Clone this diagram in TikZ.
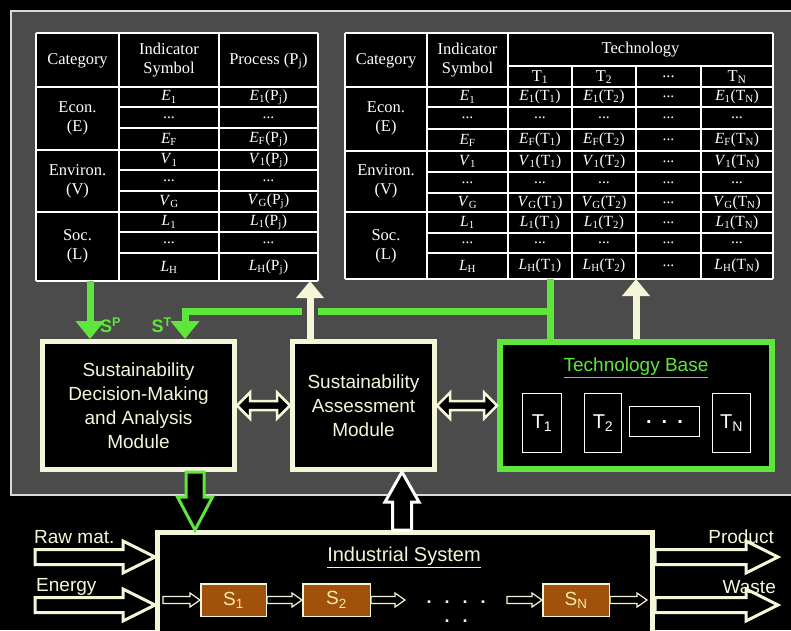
\documentclass[tikz,border=0pt]{standalone}
\usepackage{fontspec}
\setmainfont{Liberation Serif}
\setsansfont{Liberation Sans}
\usetikzlibrary{arrows.meta,calc}
\definecolor{panel}{RGB}{75,75,75}
\definecolor{cream}{RGB}{245,245,215}
\definecolor{brgreen}{RGB}{95,230,60}
\definecolor{brownbox}{RGB}{160,82,12}
\definecolor{slabel}{RGB}{250,235,170}
\newcommand\ix[2]{\textit{#1}\textsubscript{#2}}
\tikzset{
  tline/.style={white, line width=1.3pt},
  cell/.style={text=white, font=\fontsize{15.5}{17}\selectfont, inner sep=0pt},
  headtxt/.style={text=white, font=\fontsize{16.5}{19}\selectfont, align=center, inner sep=0pt},
  modbox/.style={draw=cream, fill=black, line width=5pt, text=cream,
    font=\sffamily\fontsize{19}{24}\selectfont, align=center, inner sep=0pt},
  techbox/.style={draw=white, line width=1pt, fill=black, text=white,
    font=\sffamily\fontsize{20}{24}\selectfont, inner sep=0pt},
  sbox/.style={draw=cream, line width=1.5pt, fill=brownbox, text=slabel,
    font=\sffamily\fontsize{19}{22}\selectfont, inner sep=0pt, minimum height=32.5pt},
  iolabel/.style={text=cream, font=\sffamily\fontsize{19}{22}\selectfont, inner sep=0pt},
  glabel/.style={text=brgreen, font=\sffamily\bfseries\fontsize{18}{20}\selectfont, inner sep=0pt},
  gline/.style={brgreen, line width=7pt, line join=miter},
  gtip/.style={-{Triangle[length=18pt,width=28pt]}},
  warrow/.style={cream, line width=7pt, -{Triangle[length=17pt,width=27pt]}},
  fat/.style n args={3}{to path={
    let \p1=(\tikztostart), \p2=(\tikztotarget), \n1={atan2(\y2-\y1,\x2-\x1)} in
    ($(\p1)+(\n1+90:#1)$) -- ($(\p2)+(\n1+180:#3)+(\n1+90:#1)$)
    -- ($(\p2)+(\n1+180:#3)+(\n1+90:#2)$) -- (\p2)
    -- ($(\p2)+(\n1+180:#3)+(\n1-90:#2)$) -- ($(\p2)+(\n1+180:#3)+(\n1-90:#1)$)
    -- ($(\p1)+(\n1-90:#1)$) -- cycle}},
  fatdbl/.style n args={3}{to path={
    let \p1=(\tikztostart), \p2=(\tikztotarget), \n1={atan2(\y2-\y1,\x2-\x1)} in
    (\p1) -- ($(\p1)+(\n1:#3)+(\n1+90:#2)$) -- ($(\p1)+(\n1:#3)+(\n1+90:#1)$)
    -- ($(\p2)+(\n1+180:#3)+(\n1+90:#1)$) -- ($(\p2)+(\n1+180:#3)+(\n1+90:#2)$)
    -- (\p2) -- ($(\p2)+(\n1+180:#3)+(\n1-90:#2)$) -- ($(\p2)+(\n1+180:#3)+(\n1-90:#1)$)
    -- ($(\p1)+(\n1:#3)+(\n1-90:#1)$) -- ($(\p1)+(\n1:#3)+(\n1-90:#2)$) -- cycle}},
  hollow/.style={fill=black, draw=#1, line join=miter},
  smallarrow/.style={hollow=cream, line width=1.2pt},
}
\newcommand\tabLrow[4]{%
  \node[cell] (L#1s) at (169,#2) {\ix{#3}{#4}};
  \node[cell] (L#1p) at (268.5,#2) {\ix{#3}{#4}(P\textsubscript{j})};}
\newcommand\tabLdots[2]{%
  \node[cell] (L#1s) at (169,#2) {...};
  \node[cell] (L#1p) at (268.5,#2) {...};}
\newcommand\tabRrow[4]{%
  \node[cell] (R#1s) at (467.5,#2) {\ix{#3}{#4}};
  \node[cell] (R#1a) at (540,#2) {\ix{#3}{#4}(T\textsubscript{1})};
  \node[cell] (R#1b) at (604,#2) {\ix{#3}{#4}(T\textsubscript{2})};
  \node[cell] (R#1c) at (668.5,#2) {...};
  \node[cell] (R#1d) at (737,#2) {\ix{#3}{#4}(T\textsubscript{N})};}
\newcommand\tabRdots[2]{%
  \node[cell] (R#1s) at (467.5,#2) {...};
  \node[cell] (R#1a) at (540,#2) {...};
  \node[cell] (R#1b) at (604,#2) {...};
  \node[cell] (R#1c) at (668.5,#2) {...};
  \node[cell] (R#1d) at (737,#2) {...};}
\begin{document}
\begin{tikzpicture}[x=1pt,y=-1pt]
\useasboundingbox (0,0) rectangle (791,630);
\clip (0,0) rectangle (791,630);
\fill[black] (0,0) rectangle (791,630);
% panel
\fill[panel] (11,11) rectangle (800,495);
\draw[white!85!black, line width=1.5pt] (800,11) -- (11,11) -- (11,495) -- (800,495);

% ---------- left table ----------
\fill[black] (36,33) rectangle (318,281);
\foreach \x in {36,119,219,318} \draw[tline] (\x,33) -- (\x,281);
\foreach \y in {33,87,150,212,281} \draw[tline] (36,\y) -- (318,\y);
\foreach \y in {107,128,170,191,232,253} \draw[tline] (119,\y) -- (318,\y);
\node[headtxt] (Lh1) at (77.5,61) {Category};
\node[headtxt] (Lh2) at (169,60) {Indicator\\Symbol};
\node[headtxt] (Lh3) at (268.5,61) {Process (P\textsubscript{j})};
\node[headtxt] (Lc1) at (77.5,118.5) {Econ.\\(E)};
\node[headtxt] (Lc2) at (77.5,181) {Environ.\\(V)};
\node[headtxt] (Lc3) at (77.5,246.5) {Soc.\\(L)};
\tabLrow{1}{97}{E}{1}
\tabLdots{2}{117.5}
\tabLrow{3}{139}{E}{F}
\tabLrow{4}{160}{V}{1}
\tabLdots{5}{180.5}
\tabLrow{6}{201.5}{V}{G}
\tabLrow{7}{222}{L}{1}
\tabLdots{8}{242.5}
\tabLrow{9}{267}{L}{H}

% ---------- right table ----------
\fill[black] (345,33) rectangle (773,279);
\foreach \x in {345,427,508,773} \draw[tline] (\x,33) -- (\x,279);
\foreach \x in {572,636,701} \draw[tline] (\x,66) -- (\x,279);
\foreach \y in {33,87,151,212,279} \draw[tline] (345,\y) -- (773,\y);
\draw[tline] (508,66) -- (773,66);
\foreach \y in {107,129,172,193,233,253} \draw[tline] (427,\y) -- (773,\y);
\node[headtxt] (Rh1) at (386,61) {Category};
\node[headtxt] (Rh2) at (467.5,60) {Indicator\\Symbol};
\node[headtxt] (Rh3) at (640.5,50) {Technology};
\node[headtxt] (Rt1) at (540,77) {T\textsubscript{1}};
\node[headtxt] (Rt2) at (604,77) {T\textsubscript{2}};
\node[headtxt] (Rt3) at (668.5,77) {...};
\node[headtxt] (Rt4) at (737,77) {T\textsubscript{N}};
\node[headtxt] (Rc1) at (386,118.5) {Econ.\\(E)};
\node[headtxt] (Rc2) at (386,181) {Environ.\\(V)};
\node[headtxt] (Rc3) at (386,246) {Soc.\\(L)};
\tabRrow{1}{97}{E}{1}
\tabRdots{2}{118}
\tabRrow{3}{140}{E}{F}
\tabRrow{4}{161.5}{V}{1}
\tabRdots{5}{182.5}
\tabRrow{6}{202.5}{V}{G}
\tabRrow{7}{222.5}{L}{1}
\tabRdots{8}{243}
\tabRrow{9}{266}{L}{H}

% ---------- modules ----------
\node[modbox, minimum width=192pt, minimum height=128pt] (dm) at (138.5,405.5)
  {Sustainability\\Decision-Making\\and Analysis\\Module};
\node[modbox, minimum width=142pt, minimum height=128pt] (sa) at (363.5,405.5)
  {Sustainability\\Assessment\\Module};
\node[draw=brgreen, fill=black, line width=6pt, minimum width=272pt, minimum height=127pt] (tb) at (636,405.5) {};
\node[text=brgreen, font=\sffamily\fontsize{19}{22}\selectfont, inner sep=0pt] (tbt) at (636,368) {\underline{Technology Base}};
\node[techbox, minimum width=39pt, minimum height=59pt] (t1) at (542,423) {T\textsubscript{1}};
\node[techbox, minimum width=37pt, minimum height=59pt] (t2) at (603,423) {T\textsubscript{2}};
\node[techbox, minimum width=70pt, minimum height=30pt, font=\sffamily\bfseries\fontsize{20}{24}\selectfont] (td) at (664.5,421.5) {.\hspace{10pt}.\hspace{10pt}.};
\node[techbox, minimum width=38pt, minimum height=59pt] (tn) at (731.5,423) {T\textsubscript{N}};

% ---------- green connectors ----------
\coordinate (spx) at (90,281);
\draw[gline, gtip] (spx) -- (dm.north -| spx);
\node[glabel, anchor=west] (sp) at (100,325) {S\textsuperscript{P}};
\coordinate (rtb) at (550,279);
\coordinate (gj) at (550,311);
\coordinate (gk) at (185,311);
\draw[gline] (rtb) -- (tb.north -| rtb);
\draw[gline, gtip] (gj) -- (gk) -- (dm.north -| gk);
\node[glabel, anchor=east] (st) at (172,325) {S\textsuperscript{T}};

% ---------- white connectors ----------
\coordinate (wa) at (310,281);
\draw[panel, line width=16pt] (310,302) -- (310,320);
\draw[warrow] (sa.north -| wa) -- (wa);
\coordinate (wb) at (636,279);
\draw[warrow] (tb.north -| wb) -- (wb);

% double arrows between modules
\draw[hollow=cream, line width=2.5pt] (dm.east) to[fatdbl={4.5pt}{13pt}{13pt}] (sa.west);
\draw[hollow=cream, line width=2.5pt] (sa.east) to[fatdbl={4.5pt}{13pt}{13pt}] (tb.west);

% ---------- industrial system ----------
\node[draw=cream, fill=black, line width=5pt, minimum width=495pt, minimum height=125pt] (is) at (405,595) {};
\node[text=cream, font=\sffamily\fontsize{20}{24}\selectfont, inner sep=0pt] (ist) at (404,557) {\underline{Industrial System}};
\node[sbox, minimum width=65.5pt] (s1) at (233.5,600) {S\textsubscript{1}};
\node[sbox, minimum width=67.5pt] (s2) at (336.5,600) {S\textsubscript{2}};
\node[sbox, minimum width=66.5pt] (sn) at (576,600) {S\textsubscript{N}};
\coordinate (ia) at (163,600);
\coordinate (ib) at (405,600);
\coordinate (ic) at (507,600);
\coordinate (id) at (647,600);
\draw[smallarrow] (ia) to[fat={3.5pt}{7pt}{10pt}] (s1.west);
\draw[smallarrow] (s1.east) to[fat={3.5pt}{7pt}{10pt}] (s2.west);
\draw[smallarrow] (s2.east) to[fat={3.5pt}{7pt}{10pt}] (ib);
\draw[smallarrow] (ic) to[fat={3.5pt}{7pt}{10pt}] (sn.west);
\draw[smallarrow] (sn.east) to[fat={3.5pt}{7pt}{10pt}] (id);
\node[text=cream, font=\sffamily\bfseries\fontsize{18}{20}\selectfont, inner sep=0pt] (idots) at (456,602) {.\hspace{13pt}.\hspace{13pt}.\hspace{13pt}.};
\node[text=cream, font=\sffamily\bfseries\fontsize{18}{20}\selectfont, inner sep=0pt] (idots2) at (456,621) {.\hspace{13pt}.};

% big hollow arrows
\coordinate (gx) at (195,0);
\draw[hollow=brgreen, line width=3pt] (dm.south -| gx) to[fat={9pt}{17.5pt}{33pt}] (is.north -| gx);
\coordinate (wx) at (402,0);
\draw[hollow=white, line width=3pt] (is.north -| wx) to[fat={9.5pt}{17pt}{30pt}] (sa.south -| wx);

% inputs and outputs
\coordinate (rm) at (35,557);
\coordinate (en) at (35,605);
\coordinate (pr) at (778,557);
\coordinate (ws) at (778,605);
\draw[hollow=cream, line width=3pt] (rm) to[fat={7.5pt}{16pt}{32pt}] (is.west |- rm);
\draw[hollow=cream, line width=3pt] (en) to[fat={7.5pt}{16pt}{32pt}] (is.west |- en);
\draw[hollow=cream, line width=3pt] (is.east |- pr) to[fat={7.5pt}{16pt}{32pt}] (pr);
\draw[hollow=cream, line width=3pt] (is.east |- ws) to[fat={7.5pt}{16pt}{32pt}] (ws);
\node[iolabel, anchor=west] (rmL) at (34,537) {Raw mat.};
\node[iolabel, anchor=west] (enL) at (36,587) {Energy};
\node[iolabel, anchor=east] (prL) at (774,537) {Product};
\node[iolabel, anchor=east] (wsL) at (776,587) {Waste};
\end{tikzpicture}
\end{document}
